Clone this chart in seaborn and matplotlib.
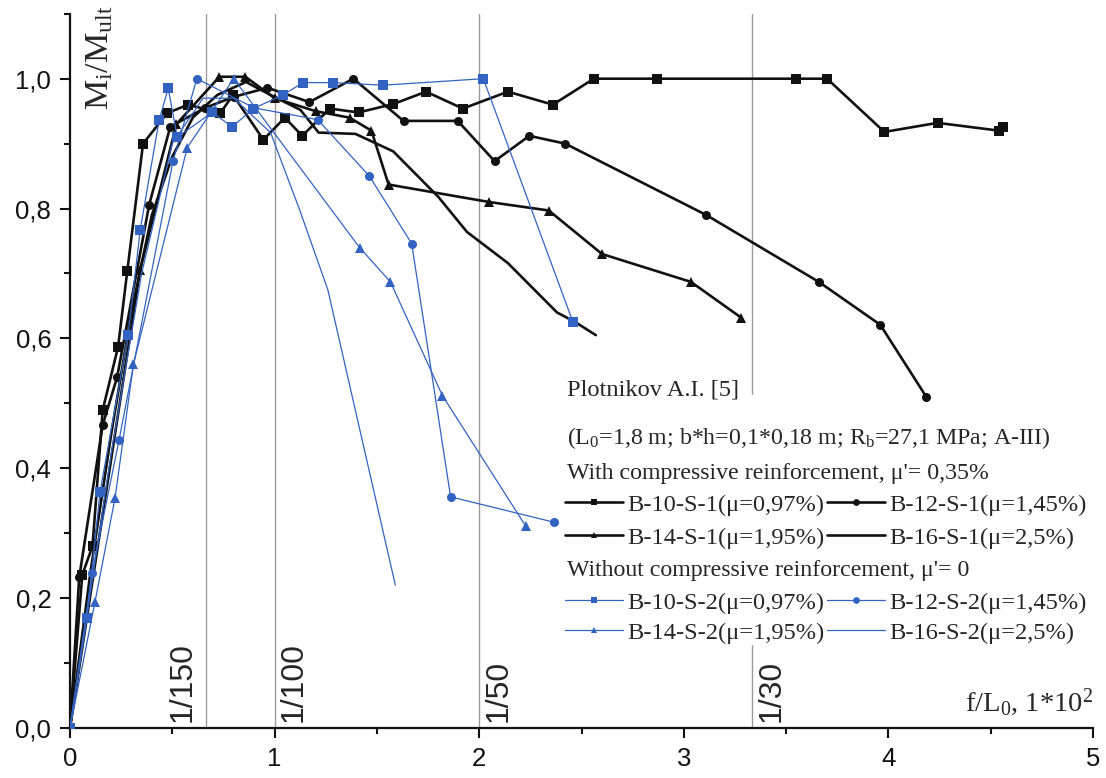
import matplotlib
matplotlib.use('Agg')

import seaborn as sns
import matplotlib.pyplot as plt
from matplotlib.patches import Rectangle
from matplotlib.ticker import MultipleLocator

# --- data (f/L0 * 10^2  vs  Mi/Mult) ---
# with compressive reinforcement
b10s1_x = [0, 0.06, 0.11, 0.16, 0.235, 0.28, 0.357, 0.475, 0.578, 0.734, 0.797, 0.945, 1.05, 1.135,
           1.27, 1.41, 1.58, 1.74, 1.92, 2.14, 2.36, 2.56, 2.87, 3.55, 3.70, 3.98, 4.24, 4.54, 4.56]
b10s1_y = [0, 0.236, 0.28, 0.49, 0.587, 0.704, 0.90, 0.947, 0.96, 0.947, 0.975, 0.906, 0.94, 0.912,
           0.954, 0.948, 0.961, 0.98, 0.954, 0.98, 0.96, 1.0, 1.0, 1.0, 1.0, 0.918, 0.932, 0.92, 0.926]

b12s1_x = [0, 0.045, 0.16, 0.23, 0.387, 0.49, 0.66, 0.80, 0.965, 1.17, 1.385, 1.63, 1.895, 2.075,
           2.245, 2.42, 3.11, 3.66, 3.96, 4.185]
b12s1_y = [0, 0.232, 0.467, 0.54, 0.806, 0.926, 0.955, 0.972, 0.986, 0.964, 1.0, 0.935, 0.935, 0.873,
           0.912, 0.90, 0.79, 0.687, 0.621, 0.51]

b14s1_x = [0, 0.343, 0.52, 0.73, 0.857, 1.0, 1.2, 1.366, 1.473, 1.557, 2.05, 2.34, 2.60, 3.035, 3.28]
b14s1_y = [0, 0.706, 0.93, 1.003, 1.003, 0.97, 0.95, 0.94, 0.92, 0.837, 0.81, 0.797, 0.73, 0.687, 0.632]

b16s1_x = [0, 0.1, 0.2, 0.3, 0.4, 0.5, 0.6, 0.72, 0.86, 0.98, 1.126, 1.215, 1.395, 1.58, 1.80, 1.94,
           2.14, 2.38, 2.47, 2.57]
b16s1_y = [0, 0.24, 0.45, 0.64, 0.79, 0.88, 0.94, 0.975, 0.995, 0.975, 0.952, 0.917, 0.915, 0.888,
           0.818, 0.764, 0.716, 0.64, 0.625, 0.605]

# without compressive reinforcement
b10s2_x = [0, 0.083, 0.147, 0.284, 0.343, 0.436, 0.48, 0.524, 0.695, 0.793, 0.896, 1.04, 1.14, 1.285,
           1.53, 2.02, 2.457]
b10s2_y = [0, 0.17, 0.364, 0.605, 0.767, 0.937, 0.985, 0.91, 0.948, 0.926, 0.954, 0.975, 0.994, 0.994,
           0.99, 1.0, 0.626]

b12s2_x = [0, 0.108, 0.24, 0.504, 0.62, 0.9, 1.21, 1.463, 1.67, 1.86, 2.364]
b12s2_y = [0, 0.239, 0.444, 0.874, 1.0, 0.955, 0.937, 0.85, 0.746, 0.356, 0.317]

b14s2_x = [0, 0.122, 0.22, 0.31, 0.573, 0.80, 1.415, 1.566, 1.82, 2.227]
b14s2_y = [0, 0.194, 0.354, 0.56, 0.894, 1.0, 0.74, 0.687, 0.512, 0.311]

b16s2_x = [0, 0.2, 0.35, 0.5, 0.65, 0.8, 0.98, 1.12, 1.26, 1.59]
b16s2_y = [0, 0.42, 0.70, 0.90, 0.97, 0.97, 0.917, 0.80, 0.675, 0.22]

labels_1 = ['B-10-S-1(μ=0,97%)', 'B-12-S-1(μ=1,45%)', 'B-14-S-1(μ=1,95%)', 'B-16-S-1(μ=2,5%)']
labels_2 = ['B-10-S-2(μ=0,97%)', 'B-12-S-2(μ=1,45%)', 'B-14-S-2(μ=1,95%)', 'B-16-S-2(μ=2,5%)']

limit_x = [100 / 150, 1.0, 2.0, 100 / 30]
limit_labels = ['1/150', '1/100', '1/50', '1/30']

x_ticks = [0, 1, 2, 3, 4, 5]
x_tick_labels = ['0', '1', '2', '3', '4', '5']
y_ticks = [0.0, 0.2, 0.4, 0.6, 0.8, 1.0]
y_tick_labels = ['0,0', '0,2', '0,4', '0,6', '0,8', '1,0']

BLACK = '#111111'
BLUE = '#3363C2'

sns.set_style('ticks')
plt.rcParams['font.family'] = ['Liberation Serif', 'DejaVu Serif']
plt.rcParams['mathtext.fontset'] = 'custom'
plt.rcParams['mathtext.rm'] = 'Liberation Serif'
plt.rcParams['mathtext.it'] = 'Liberation Serif:italic'

fig = plt.figure(figsize=(11.06, 7.78), dpi=100)
ax = fig.add_axes([0.0633, 0.0643, 0.925, 0.918])

# reference deflection limits
for xv in limit_x:
    ax.axvline(xv, color='#9a9a9a', lw=1.0, zorder=1)

series = [
    (labels_1[0], b10s1_x, b10s1_y, 's', BLACK, 1.9),
    (labels_1[1], b12s1_x, b12s1_y, 'o', BLACK, 1.9),
    (labels_1[2], b14s1_x, b14s1_y, '^', BLACK, 1.9),
    (labels_1[3], b16s1_x, b16s1_y, None, BLACK, 1.9),
    (labels_2[0], b10s2_x, b10s2_y, 's', BLUE, 0.9),
    (labels_2[1], b12s2_x, b12s2_y, 'o', BLUE, 0.9),
    (labels_2[2], b14s2_x, b14s2_y, '^', BLUE, 0.9),
    (labels_2[3], b16s2_x, b16s2_y, None, BLUE, 0.9),
]
for lab, xs, ys, mk, col, lw in series:
    kws = {}
    if mk:
        kws = dict(marker=mk, markersize=6.5, markeredgewidth=0)
    sns.lineplot(x=xs, y=ys, sort=False, estimator=None, errorbar=None, color=col, lw=lw,
                 label=lab, legend=False, ax=ax, zorder=3, **kws)

ax.set_xlim(0, 5)
ax.set_ylim(0, 1.1)
ax.set_xlabel('')
ax.set_ylabel('')
ax.set_xticks(x_ticks)
ax.set_xticklabels(x_tick_labels)
ax.set_yticks(y_ticks)
ax.set_yticklabels(y_tick_labels)
ax.xaxis.set_minor_locator(MultipleLocator(0.5))
ax.yaxis.set_minor_locator(MultipleLocator(0.1))
ax.tick_params(which='major', direction='out', length=7.5, width=1.5, labelsize=18.5, pad=6,
               colors='#111111')
ax.tick_params(which='minor', direction='out', length=4, width=1.5, colors='#111111')
for t in ax.get_xticklabels() + ax.get_yticklabels():
    t.set_fontfamily('Liberation Sans')
sns.despine(ax=ax)
for s in ['left', 'bottom']:
    ax.spines[s].set_linewidth(1.6)
    ax.spines[s].set_color('#111111')

# limit labels
for xv, txt in zip(limit_x, limit_labels):
    if txt == '1/150':
        ax.text(xv - 0.045, 0.009, txt, rotation=90, ha='right', va='bottom',
                fontsize=23, family='Liberation Sans')
    else:
        ax.text(xv + 0.02, 0.009, txt, rotation=90, ha='left', va='bottom',
                fontsize=23, family='Liberation Sans')

ax.text(0.014, 1.012, r'M$_\mathregular{i}$/M$_\mathregular{ult}$', transform=ax.transAxes,
        rotation=90, ha='left', va='top', fontsize=24.5)
ax.text(1.0, 0.025, r'f/L$_\mathregular{0}$, 1*10$^\mathregular{2}$', transform=ax.transAxes,
        ha='right', va='baseline', fontsize=20.5)

# legend block
ax.add_patch(Rectangle((0.479, 0.116), 0.521, 0.35, transform=ax.transAxes,
                       facecolor='white', edgecolor='none', zorder=1.5))
ax.text(0.486, 0.473, 'Plotnikov A.I. [5]', transform=ax.transAxes, va='center', fontsize=17.6)
ax.text(0.486, 0.406, r'(L$_\mathregular{0}$=1,8 m; b*h=0,1*0,18 m; R$_\mathregular{b}$=27,1 MPa; A-III)',
        transform=ax.transAxes, va='center', fontsize=17.2)
ax.text(0.486, 0.356, "With compressive reinforcement, μ'= 0,35%", transform=ax.transAxes,
        va='center', fontsize=17.2)
ax.text(0.486, 0.220, "Without compressive reinforcement, μ'= 0", transform=ax.transAxes,
        va='center', fontsize=17.2)

handles, labs = ax.get_legend_handles_labels()
lookup = dict(zip(labs, handles))
order = [0, 2, 1, 3]
leg_kw = dict(ncol=2, loc='upper left', frameon=False, fontsize=17.6, handlelength=2.35,
              handletextpad=0.2, columnspacing=0.1, borderpad=0, borderaxespad=0, markerscale=0.75)
leg1 = ax.legend([lookup[labels_1[i]] for i in order], [labels_1[i] for i in order],
                 bbox_to_anchor=(0.484, 0.328), labelspacing=0.45, **leg_kw)
ax.add_artist(leg1)
ax.legend([lookup[labels_2[i]] for i in order], [labels_2[i] for i in order],
          bbox_to_anchor=(0.484, 0.191), labelspacing=0.32, **leg_kw)

fig.savefig('out.png', dpi=100)
plt.close()
